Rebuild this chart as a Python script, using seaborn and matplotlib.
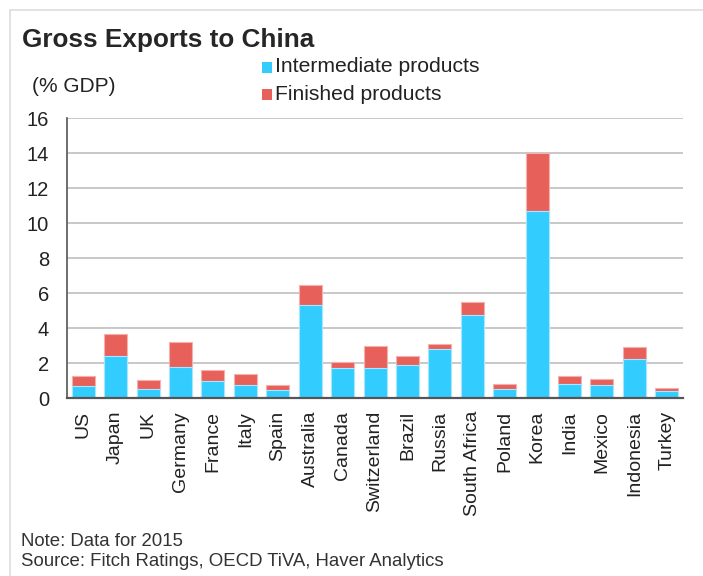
import pandas as pd
import matplotlib
matplotlib.use('Agg')
import matplotlib.pyplot as plt
import seaborn as sns
from matplotlib.patches import Rectangle
from matplotlib.lines import Line2D

sns.set_style('white')
plt.rcParams['font.family'] = ['Liberation Sans', 'DejaVu Sans']

countries = ['US', 'Japan', 'UK', 'Germany', 'France', 'Italy', 'Spain', 'Australia',
             'Canada', 'Switzerland', 'Brazil', 'Russia', 'South Africa', 'Poland',
             'Korea', 'India', 'Mexico', 'Indonesia', 'Turkey']
intermediate = [0.73, 2.41, 0.54, 1.78, 0.98, 0.77, 0.47, 5.32, 1.72, 1.72,
                1.90, 2.81, 4.77, 0.52, 10.71, 0.83, 0.75, 2.24, 0.43]
total = [1.27, 3.67, 1.06, 3.21, 1.65, 1.38, 0.75, 6.50, 2.07, 3.02,
         2.43, 3.13, 5.50, 0.83, 14.03, 1.29, 1.11, 2.92, 0.60]

df = pd.DataFrame({'country': countries, 'intermediate': intermediate, 'total': total})

blue = '#33ccff'
red = '#e8605a'

fig = plt.figure(figsize=(7.03, 5.76), dpi=100)
ax = fig.add_axes([0.0953, 0.3082, 0.8763, 0.4869])

# finished sits on top of intermediate -> draw total first, then intermediate over it
sns.barplot(data=df, x='country', y='total', color=red, width=0.71, ax=ax,
            edgecolor='#f4b0ad', linewidth=0.8, saturation=1)
sns.barplot(data=df, x='country', y='intermediate', color=blue, width=0.71, ax=ax,
            edgecolor='#a8e8ff', linewidth=0.8, saturation=1)

ax.set_ylim(0, 16)
ax.set_xlim(-0.5, len(countries) - 0.5)
ax.set_yticks(range(0, 17, 2))
ax.yaxis.grid(True, color='#c8c8c8', linewidth=1.4)
ax.set_axisbelow(True)
ax.set_xlabel('')
ax.set_ylabel('')
ax.tick_params(axis='y', length=0, pad=13, labelsize=14.5, labelcolor='#222222')
ax.tick_params(axis='x', length=0, pad=9, labelsize=14, labelcolor='#222222')
plt.setp(ax.get_xticklabels(), rotation=90, va='top', ha='center')

for s in ['top', 'right']:
    ax.spines[s].set_visible(False)
ax.spines['left'].set_color('#555555')
ax.spines['bottom'].set_color('#555555')
ax.spines['left'].set_linewidth(1.2)
ax.spines['bottom'].set_linewidth(1.6)

# frame lines of the chart box
fig.add_artist(Line2D([10 / 703, 1], [1 - 10 / 576] * 2, color='#dddddd', lw=1.2))
fig.add_artist(Line2D([10 / 703] * 2, [0, 1 - 10 / 576], color='#dddddd', lw=1.2))

fig.text(22 / 703, 1 - 40 / 576, 'Gross Exports to China', fontsize=18.8,
         fontweight='bold', va='center', ha='left')
fig.text(32 / 703, 1 - 86 / 576, '(% GDP)', fontsize=15, va='center',
         ha='left', color='#222222')

# legend as squares + text
for i, (lab, col) in enumerate([('Intermediate products', blue), ('Finished products', red)]):
    yc = 1 - (67 + i * 27) / 576
    fig.add_artist(Rectangle((262 / 703, yc - 5.5 / 576), 10 / 703, 11 / 576,
                             facecolor=col, edgecolor='none'))
    fig.text(275 / 703, yc, lab, fontsize=15.2, va='center', ha='left', color='#222222')

fig.text(21 / 703, 1 - 541 / 576, 'Note: Data for 2015', fontsize=13.4, va='center',
         ha='left', color='#333333')
fig.text(21 / 703, 1 - 561 / 576, 'Source: Fitch Ratings, OECD TiVA, Haver Analytics',
         fontsize=13.4, va='center', ha='left', color='#333333')

fig.savefig('out.png', dpi=100)
